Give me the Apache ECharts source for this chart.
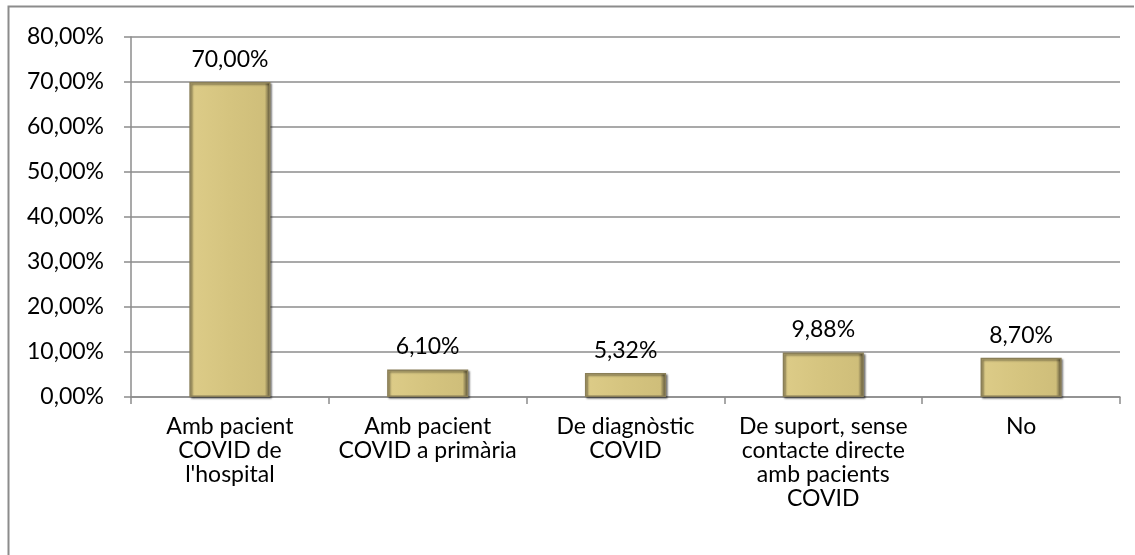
<!DOCTYPE html>
<html>
<head>
<meta charset="utf-8">
<script src="https://cdn.jsdelivr.net/npm/echarts@6/dist/echarts.min.js"></script>
<style>
  html, body { margin: 0; padding: 0; background: #fff; }
  #chart { width: 1135px; height: 555px; }
</style>
</head>
<body>
<div id="chart"></div>
<script>
// Categories (line breaks as wrapped under the axis)
const categories = [
  "Amb pacient\nCOVID de\nl'hospital",
  "Amb pacient\nCOVID a primària",
  "De diagnòstic\nCOVID",
  "De suport, sense\ncontacte directe\namb pacients\nCOVID",
  "No"
];
// Share of respondents, in percent
const values = [70.00, 6.10, 5.32, 9.88, 8.70];
// Y axis range and step, in percent
const yMin = 0;
const yMax = 80;
const yStep = 10;

const FONT = 'Lato, "Open Sans", sans-serif';
const FS = 23;
const fmt = v => v.toFixed(2).replace('.', ',') + '%';

const chart = echarts.init(document.getElementById('chart'));
chart.setOption({
  animation: false,
  backgroundColor: '#ffffff',
  grid: { left: 131, right: 15, top: 37, bottom: 158, containLabel: false },
  graphic: [{
    type: 'polyline',
    shape: { points: [[8.5, 555], [8.5, 6.5], [1134, 6.5]] },
    style: { stroke: '#8c8c8c', lineWidth: 2, fill: null },
    silent: true
  }],
  xAxis: {
    type: 'category',
    data: categories,
    axisLine: { show: true, lineStyle: { color: '#8c8c8c', width: 1.5 } },
    axisTick: { show: true, alignWithLabel: false, length: 7, lineStyle: { color: '#8c8c8c', width: 1.5 } },
    axisLabel: {
      interval: 0, margin: 18, color: '#000', fontFamily: FONT, fontSize: FS, lineHeight: 24
    }
  },
  yAxis: {
    type: 'value',
    min: yMin, max: yMax, interval: yStep,
    axisLine: { show: true, lineStyle: { color: '#8c8c8c', width: 1.5 } },
    axisTick: { show: true, length: 7, lineStyle: { color: '#8c8c8c', width: 1.5 } },
    splitLine: { show: true, lineStyle: { color: '#8c8c8c', width: 1.5 } },
    axisLabel: {
      formatter: v => fmt(v), margin: 27, color: '#000', fontFamily: FONT, fontSize: FS
    }
  },
  series: [{
    type: 'bar',
    data: values,
    barWidth: '41%',
    itemStyle: {
      color: {
        type: 'linear', x: 0, y: 0, x2: 1, y2: 0,
        colorStops: [
          { offset: 0, color: '#c9b878' },
          { offset: 0.06, color: '#dccb87' },
          { offset: 0.5, color: '#d5c47f' },
          { offset: 0.93, color: '#cfbe7a' },
          { offset: 1, color: '#4d4630' }
        ]
      },
      borderColor: '#8a7f58',
      borderWidth: 1.5,
      shadowColor: 'rgba(0,0,0,0.45)',
      shadowBlur: 2,
      shadowOffsetX: 1.5,
      shadowOffsetY: 1.5
    },
    label: {
      show: true, position: 'top', distance: 11,
      formatter: p => fmt(p.value),
      color: '#000', fontFamily: FONT, fontSize: FS
    }
  }]
});
</script>
</body>
</html>
